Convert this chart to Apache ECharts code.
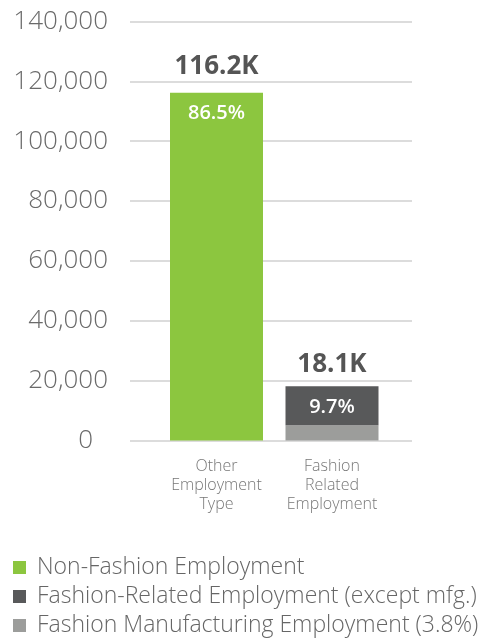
<!DOCTYPE html>
<html><head><meta charset="utf-8">
<script src="https://cdn.jsdelivr.net/npm/echarts@6/dist/echarts.min.js"></script>
<style>html,body{margin:0;padding:0;background:#fff}#c{width:500px;height:639px}</style>
</head><body><div id="c"></div>
<script>
const categories = ['Other\nEmployment\nType', 'Fashion\nRelated\nEmployment'];
const nonFashion = [116200, '-'];
const fashionRelated = ['-', 13000];
const fashionMfg = ['-', 5100];
const totalLabels = ['116.2K', '18.1K'];
const pctLabels = ['86.5%', '9.7%'];
const seriesNames = ['Non-Fashion Employment', 'Fashion-Related Employment (except mfg.)', 'Fashion Manufacturing Employment (3.8%)'];

const FONT = '"Open Sans", Lato, sans-serif';
const GREEN = '#8cc63f', DARK = '#58595a', LIGHT = '#9c9d9b';

function topLabel(i, l1, l2) {
  return {
    show: true,
    position: ['50%', -(l1 / 2 + (i === 0 ? 26.5 : 21.5))],
    align: 'center', verticalAlign: 'top',
    formatter: '{t|' + totalLabels[i] + '}\n{p|' + pctLabels[i] + '}',
    rich: {
      t: { fontFamily: FONT, fontSize: 26, fontWeight: 'bold', color: '#555', lineHeight: l1, align: 'center' },
      p: { fontFamily: FONT, fontSize: 20, fontWeight: 600, color: '#fff', lineHeight: l2, align: 'center' }
    }
  };
}

const chart = echarts.init(document.getElementById('c'), null, { renderer: 'canvas' });
chart.setOption({
  animation: false,
  backgroundColor: '#fff',
  grid: [
    { left: 130, right: 88, top: 21.5, bottom: 198.5 },
    { left: 158.75, right: 110.25, top: 21.5, bottom: 198.5 }
  ],
  xAxis: [
    { gridIndex: 0, type: 'value', show: false, min: 0, max: 1 },
    { gridIndex: 1, type: 'category', data: categories,
      axisLine: { show: false }, axisTick: { show: false },
      axisLabel: { interval: 0, hideOverlap: false, margin: 16, fontFamily: FONT, fontSize: 16, lineHeight: 19, color: '#777', fontWeight: 300 } }
  ],
  yAxis: [
    { gridIndex: 0, type: 'value', min: 0, max: 140000, interval: 20000,
      axisLine: { show: false }, axisTick: { show: false },
      splitLine: { lineStyle: { color: '#dcdcdc', width: 2 } },
      axisLabel: { margin: 22, fontFamily: FONT, fontSize: 26, fontWeight: 300, color: '#6a6a6a',
        formatter: v => v === 0 ? '{z|0}' : v.toLocaleString('en-US'),
        rich: { z: { fontFamily: FONT, fontSize: 26, fontWeight: 300, color: '#6a6a6a', padding: [0, 15, 0, 0] } } } },
    { gridIndex: 1, type: 'value', min: 0, max: 140000, show: false, splitLine: { show: false } }
  ],
  legend: {
    orient: 'vertical', left: 8, top: 551, height: 88, width: 490,
    data: seriesNames,
    icon: 'rect', itemWidth: 13, itemHeight: 13, itemGap: 6,
    textStyle: { fontFamily: FONT, fontSize: 23, fontWeight: 300, color: '#666', lineHeight: 23, padding: [0, 0, 0, 6] },
    selectedMode: false
  },
  series: [
    { name: seriesNames[0], type: 'bar', stack: 's', xAxisIndex: 1, yAxisIndex: 1, barWidth: 93,
      itemStyle: { color: GREEN },
      data: nonFashion.map((v, i) => v === '-' ? v : { value: v, label: topLabel(i, 40, 54) }) },
    { name: seriesNames[2], type: 'bar', stack: 's', xAxisIndex: 1, yAxisIndex: 1, barWidth: 93,
      itemStyle: { color: LIGHT }, data: fashionMfg },
    { name: seriesNames[1], type: 'bar', stack: 's', xAxisIndex: 1, yAxisIndex: 1, barWidth: 93,
      itemStyle: { color: DARK },
      data: fashionRelated.map((v, i) => v === '-' ? v : { value: v, label: topLabel(i, 40, 45) }) }
  ]
});
</script></body></html>
